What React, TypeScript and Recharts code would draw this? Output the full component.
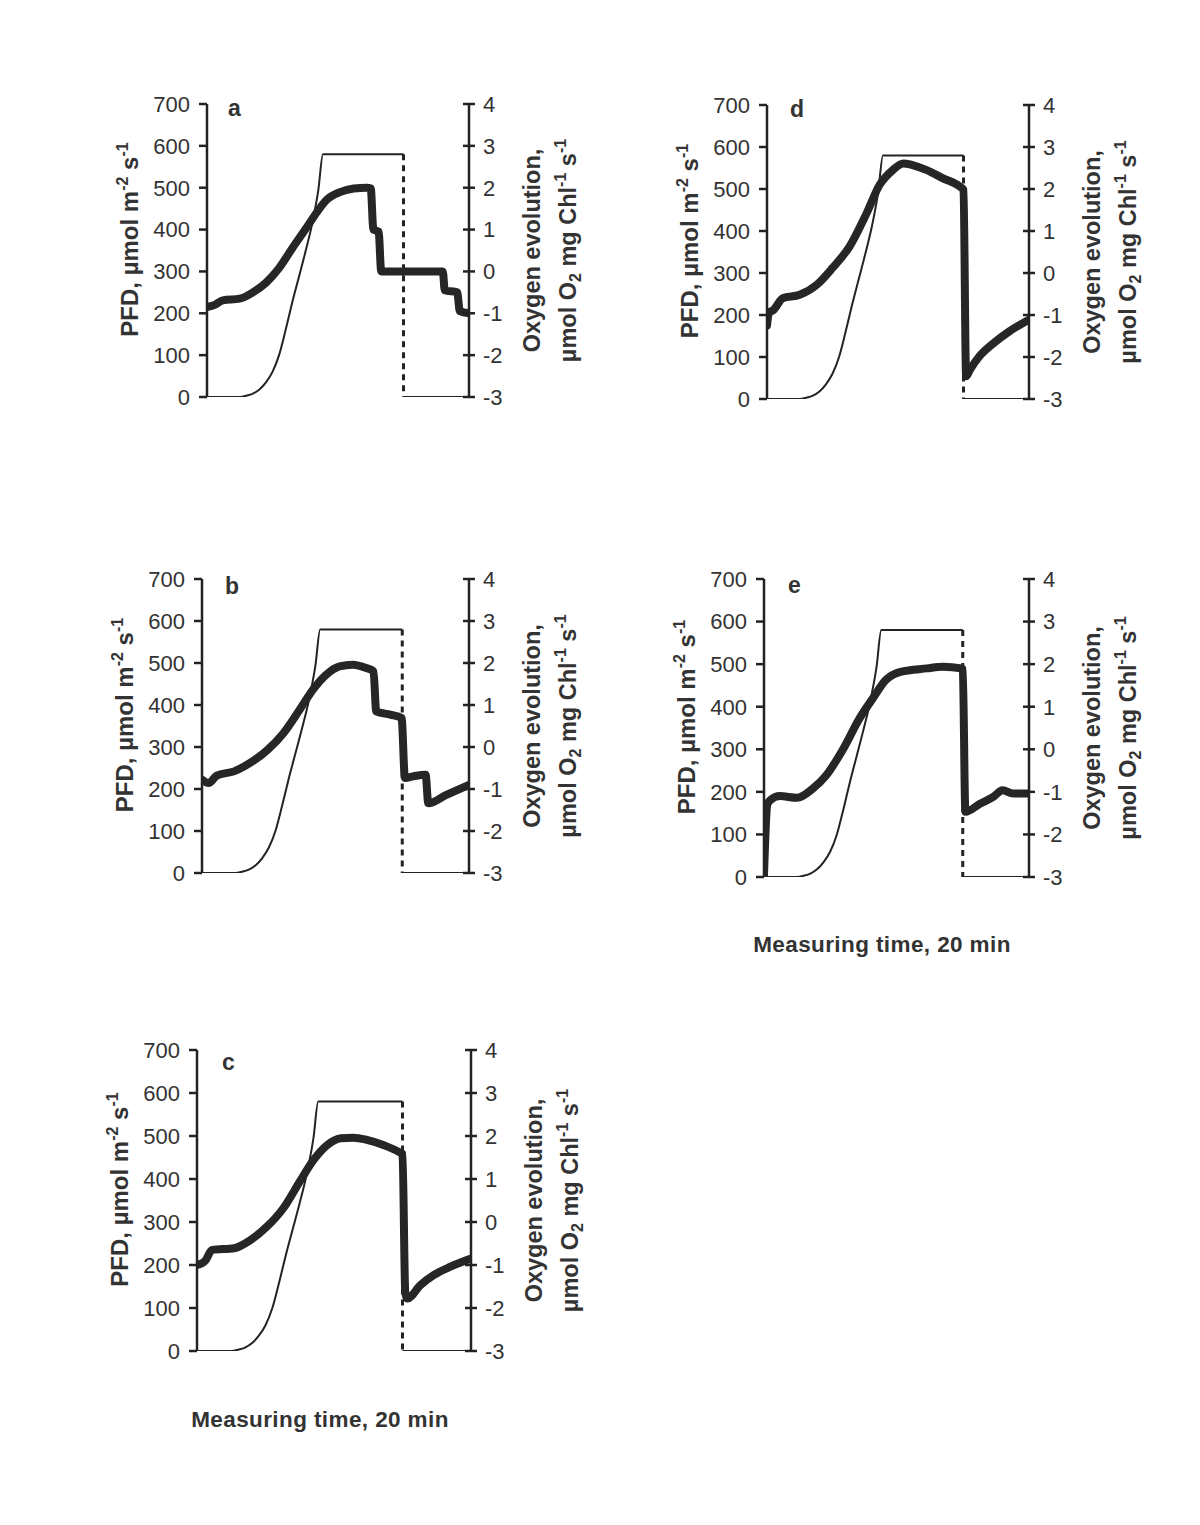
import { Line, LineChart, XAxis, YAxis } from "recharts";

// light protocol (PFD, µmol m-2 s-1) – same in every panel
const lightTime = [0, 2.5, 3, 3.5, 4, 4.5, 5, 5.5, 6, 6.5, 7, 7.5, 8, 8.5, 8.85, 15];
const lightPfd = [0, 0, 3, 8, 18, 35, 60, 100, 160, 225, 285, 345, 410, 495, 580, 580];
const lightOffTime = [15, 15];
const lightOffPfd = [580, 0];
const darkTime = [15, 20];
const darkPfd = [0, 0];

// oxygen evolution, µmol O2 mg Chl-1 s-1
const o2TimeA = [0, 0.6, 1.2, 2.5, 3.5, 4.5, 5.5, 6.5, 7.5, 8.4, 9.1, 10.2, 11.2, 12.2, 12.5, 12.7, 13.1, 13.3, 18.0, 18.15, 19.1, 19.3, 20];
const o2A = [-0.85, -0.8, -0.69, -0.65, -0.5, -0.27, 0.08, 0.55, 1.0, 1.42, 1.7, 1.9, 1.98, 2.0, 1.98, 1.0, 0.95, 0.0, 0.0, -0.45, -0.5, -0.95, -1.0];

const o2TimeB = [0, 0.5, 1.1, 2.4, 3.6, 4.9, 6.1, 7.3, 8.3, 9.3, 10.3, 11.3, 12.3, 12.85, 13.05, 14.1, 14.95, 15.2, 15.8, 16.75, 16.95, 18.3, 20];
const o2B = [-0.78, -0.86, -0.68, -0.58, -0.38, -0.07, 0.33, 0.88, 1.36, 1.72, 1.92, 1.96, 1.88, 1.8, 0.85, 0.77, 0.69, -0.74, -0.7, -0.66, -1.34, -1.14, -0.9];

const o2TimeC = [0, 0.6, 1.1, 2.7, 3.9, 5.1, 6.3, 7.5, 8.5, 9.5, 10.5, 11.4, 12.4, 13.6, 14.8, 15.0, 15.2, 15.35, 16.3, 17.3, 18.5, 20];
const o2C = [-1.0, -0.9, -0.65, -0.61, -0.42, -0.11, 0.32, 0.94, 1.44, 1.79, 1.95, 1.96, 1.91, 1.79, 1.62, 1.58, -1.62, -1.78, -1.47, -1.23, -1.04, -0.85];

const o2TimeD = [0, 0.15, 0.5, 1.2, 2.5, 3.8, 5.0, 6.3, 7.6, 8.6, 9.6, 10.4, 11.1, 12.2, 13.4, 14.7, 15.0, 15.2, 15.5, 16.2, 17.3, 18.5, 20];
const o2D = [-1.25, -0.95, -0.88, -0.6, -0.52, -0.28, 0.12, 0.63, 1.42, 2.1, 2.45, 2.61, 2.57, 2.45, 2.26, 2.06, 1.98, -2.46, -2.3, -1.99, -1.67, -1.39, -1.11];

const o2TimeE = [0, 0.25, 0.45, 1.2, 2.5, 3.7, 4.7, 6.0, 7.2, 8.2, 9.2, 10.3, 12.3, 13.5, 14.9, 15.0, 15.2, 16.3, 17.3, 18.0, 18.8, 20];
const o2E = [-2.95, -1.3, -1.2, -1.1, -1.14, -0.92, -0.61, 0.02, 0.72, 1.19, 1.63, 1.82, 1.9, 1.94, 1.9, 1.88, -1.47, -1.28, -1.12, -0.96, -1.04, -1.04];

const pfdTicks = [0, 100, 200, 300, 400, 500, 600, 700];
const o2Ticks = [-3, -2, -1, 0, 1, 2, 3, 4];

const FONT = '"Liberation Sans", Arial, Helvetica, sans-serif';
const INK = "#232323";
const TEXT = "#333";

const zip = (t: number[], v: number[]) => t.map((x, i) => ({ t: x, v: v[i] }));

const lightOn = zip(lightTime, lightPfd);
const lightOff = zip(lightOffTime, lightOffPfd);
const dark = zip(darkTime, darkPfd);

// plot-area corners in page pixels
const panels = [
  { id: "a", L: 207, R: 469, T: 104, B: 397, data: zip(o2TimeA, o2A) },
  { id: "b", L: 202, R: 469, T: 579, B: 873, data: zip(o2TimeB, o2B) },
  { id: "c", L: 197, R: 471, T: 1050, B: 1351, data: zip(o2TimeC, o2C) },
  { id: "d", L: 767, R: 1029, T: 105, B: 399, data: zip(o2TimeD, o2D) },
  { id: "e", L: 764, R: 1029, T: 579, B: 877, data: zip(o2TimeE, o2E) },
];

function LeftTick({ x, y, payload }: any) {
  return (
    <text x={x} y={y} dy="0.36em" textAnchor="end" fontSize={22} fontFamily={FONT} fill={TEXT}>
      {payload.value}
    </text>
  );
}

function RightTick({ x, y, payload }: any) {
  const axisX = x - 14;
  return (
    <g>
      <line x1={axisX - 6} x2={axisX} y1={y} y2={y} stroke={INK} strokeWidth={2.5} />
      <text x={x} y={y} dy="0.36em" textAnchor="start" fontSize={22} fontFamily={FONT} fill={TEXT}>
        {payload.value}
      </text>
    </g>
  );
}

function PfdLabel({ viewBox }: any) {
  const cx = viewBox.x + viewBox.width - 69;
  const cy = viewBox.y + viewBox.height / 2 - 11;
  return (
    <text
      x={cx}
      y={cy}
      transform={`rotate(-90, ${cx}, ${cy})`}
      textAnchor="middle"
      fontFamily={FONT}
      fontWeight="bold"
      fontSize={24}
      fill={TEXT}
    >
      PFD, µmol m
      <tspan fontSize={16} dy={-10}>-2</tspan>
      <tspan dy={10}>{" s"}</tspan>
      <tspan fontSize={16} dy={-10}>-1</tspan>
    </text>
  );
}

function O2Label({ viewBox }: any) {
  const cx1 = viewBox.x + 71;
  const cx2 = viewBox.x + 107;
  const cy = viewBox.y + viewBox.height / 2;
  return (
    <g fontFamily={FONT} fontWeight="bold" fontSize={23.5} fill={TEXT}>
      <text x={cx1} y={cy} transform={`rotate(-90, ${cx1}, ${cy})`} textAnchor="middle">
        Oxygen evolution,
      </text>
      <text x={cx2} y={cy} transform={`rotate(-90, ${cx2}, ${cy})`} textAnchor="middle">
        µmol O
        <tspan fontSize={16} dy={5}>2</tspan>
        <tspan dy={-5}>{" mg Chl"}</tspan>
        <tspan fontSize={16} dy={-10}>-1</tspan>
        <tspan dy={10}>{" s"}</tspan>
        <tspan fontSize={16} dy={-10}>-1</tspan>
      </text>
    </g>
  );
}

function Panel({ p }: { p: (typeof panels)[number] }) {
  const width = p.R - p.L + 240;
  const height = p.B - p.T + 60;
  return (
    <div style={{ position: "absolute", left: p.L - 120, top: p.T - 30 }}>
      <LineChart width={width} height={height} margin={{ top: 30, right: 60, bottom: 30, left: 60 }}>
        <XAxis type="number" dataKey="t" domain={[0, 20]} allowDataOverflow hide />
        <YAxis
          yAxisId="pfd"
          orientation="left"
          domain={[0, 700]}
          ticks={pfdTicks}
          width={60}
          tickSize={8}
          tickMargin={9}
          axisLine={{ stroke: INK, strokeWidth: 2.5 }}
          tickLine={{ stroke: INK, strokeWidth: 2.5 }}
          tick={(props: any) => <LeftTick {...props} />}
          label={(props: any) => <PfdLabel {...props} />}
          allowDataOverflow
        />
        <YAxis
          yAxisId="o2"
          orientation="right"
          domain={[-3, 4]}
          ticks={o2Ticks}
          width={60}
          tickSize={6}
          tickMargin={8}
          axisLine={{ stroke: INK, strokeWidth: 2.5 }}
          tickLine={{ stroke: INK, strokeWidth: 2.5 }}
          tick={(props: any) => <RightTick {...props} />}
          label={(props: any) => <O2Label {...props} />}
          allowDataOverflow
        />
        <Line data={lightOn} dataKey="v" yAxisId="pfd" type="monotone" stroke={INK} strokeWidth={2} dot={false} isAnimationActive={false} />
        <Line data={lightOff} dataKey="v" yAxisId="pfd" type="linear" stroke={INK} strokeWidth={3} strokeDasharray="6 5" dot={false} isAnimationActive={false} />
        <Line data={dark} dataKey="v" yAxisId="pfd" type="linear" stroke={INK} strokeWidth={2} dot={false} isAnimationActive={false} />
        <Line
          data={p.data}
          dataKey="v"
          yAxisId="o2"
          type="monotone"
          stroke="#262626"
          strokeWidth={8}
          strokeLinejoin="round"
          strokeLinecap="round"
          dot={false}
          isAnimationActive={false}
        />
      </LineChart>
    </div>
  );
}

export default function App() {
  return (
    <div style={{ position: "absolute", left: 0, top: 0, width: 1200, height: 1525, background: "#fff", overflow: "hidden" }}>
      {panels.map((p) => (
        <Panel key={p.id} p={p} />
      ))}
      <svg width={1200} height={1525} style={{ position: "absolute", left: 0, top: 0, pointerEvents: "none" }}>
        <g fontFamily={FONT} fontWeight="bold" fill={TEXT}>
          <text x={228} y={116} fontSize={23}>a</text>
          <text x={225} y={594} fontSize={23}>b</text>
          <text x={222} y={1070} fontSize={23}>c</text>
          <text x={790} y={117} fontSize={23}>d</text>
          <text x={788} y={593} fontSize={23}>e</text>
          <text x={320} y={1427} fontSize={22.5} textAnchor="middle" letterSpacing={0.4}>Measuring time, 20 min</text>
          <text x={882} y={952} fontSize={22.5} textAnchor="middle" letterSpacing={0.4}>Measuring time, 20 min</text>
        </g>
      </svg>
    </div>
  );
}
